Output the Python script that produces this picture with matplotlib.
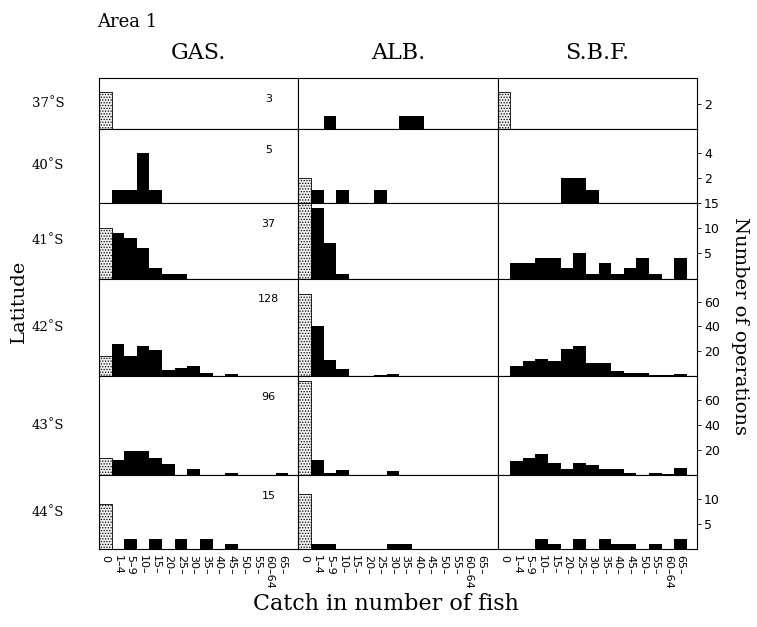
import matplotlib
matplotlib.use("Agg")
import matplotlib.pyplot as plt

# bins of catch per operation
bins = ["0", "1\u20134", "5\u20139", "10\u2013", "15\u2013", "20\u2013", "25\u2013", "30\u2013",
        "35\u2013", "40\u2013", "45\u2013", "50\u2013", "55\u2013", "60\u201364", "65\u2013"]
latitudes = ["37\u02daS", "40\u02daS", "41\u02daS", "42\u02daS", "43\u02daS", "44\u02daS"]
n_ops = ["3", "5", "37", "128", "96", "15"]
species = ["GAS.", "ALB.", "S.B.F."]

gas_37 = [3, 0, 0, 0, 0, 0, 0, 0, 0, 0, 0, 0, 0, 0, 0]
gas_40 = [0, 1, 1, 4, 1, 0, 0, 0, 0, 0, 0, 0, 0, 0, 0]
gas_41 = [10, 9, 8, 6, 2, 1, 1, 0, 0, 0, 0, 0, 0, 0, 0]
gas_42 = [16, 26, 16, 24, 21, 5, 7, 8, 3, 0, 2, 0, 0, 0, 0]
gas_43 = [14, 12, 19, 19, 14, 9, 0, 5, 0, 0, 2, 0, 0, 0, 2]
gas_44 = [9, 0, 2, 0, 2, 0, 2, 0, 2, 0, 1, 0, 0, 0, 0]

alb_37 = [0, 0, 1, 0, 0, 0, 0, 0, 1, 1, 0, 0, 0, 0, 0]
alb_40 = [2, 1, 0, 1, 0, 0, 1, 0, 0, 0, 0, 0, 0, 0, 0]
alb_41 = [15, 14, 7, 1, 0, 0, 0, 0, 0, 0, 0, 0, 0, 0, 0]
alb_42 = [66, 40, 13, 6, 0, 0, 1, 2, 0, 0, 0, 0, 0, 0, 0]
alb_43 = [75, 12, 2, 4, 0, 0, 0, 3, 0, 0, 0, 0, 0, 0, 0]
alb_44 = [11, 1, 1, 0, 0, 0, 0, 1, 1, 0, 0, 0, 0, 0, 0]

sbf_37 = [3, 0, 0, 0, 0, 0, 0, 0, 0, 0, 0, 0, 0, 0, 0]
sbf_40 = [0, 0, 0, 0, 0, 2, 2, 1, 0, 0, 0, 0, 0, 0, 0]
sbf_41 = [0, 3, 3, 4, 4, 2, 5, 1, 3, 1, 2, 4, 1, 0, 4]
sbf_42 = [0, 8, 12, 14, 12, 22, 24, 11, 11, 4, 3, 3, 1, 1, 2]
sbf_43 = [0, 11, 14, 17, 10, 5, 10, 8, 5, 5, 2, 0, 2, 1, 6]
sbf_44 = [0, 0, 0, 2, 1, 0, 2, 0, 2, 1, 1, 0, 1, 0, 2]

gas = [gas_37, gas_40, gas_41, gas_42, gas_43, gas_44]
alb = [alb_37, alb_40, alb_41, alb_42, alb_43, alb_44]
sbf = [sbf_37, sbf_40, sbf_41, sbf_42, sbf_43, sbf_44]

row_ymax = [4.1, 5.9, 15, 78.4, 79, 14.8]
row_ticks = [[2], [2, 4], [5, 10, 15], [20, 40, 60], [20, 40, 60], [5, 10]]

serif = "DejaVu Serif"
plt.rcParams["hatch.linewidth"] = 0.6

fig = plt.figure(figsize=(7.57, 6.27), dpi=100)
gs = fig.add_gridspec(nrows=6, ncols=3, left=0.1308, right=0.9207, top=0.8756, bottom=0.1244,
                      hspace=0, wspace=0, height_ratios=[51, 74, 76, 98, 99, 74])

for c, data in enumerate([gas, alb, sbf]):
    for r in range(6):
        ax = fig.add_subplot(gs[r, c])
        vals = data[r]
        x = list(range(len(bins)))
        ax.bar(x[0], vals[0], width=1, align="edge", facecolor="#f2f2f2", edgecolor="black",
               hatch="......", linewidth=0.6)
        ax.bar(x[1:], vals[1:], width=1, align="edge", color="black", linewidth=0)
        ax.set_xlim(0, 15.8)
        ax.set_ylim(0, row_ymax[r])
        for s in ax.spines.values():
            s.set_linewidth(0.8)
        ax.set_yticks([])
        if c == 2:
            ax.yaxis.tick_right()
            ax.set_yticks(row_ticks[r])
            ax.tick_params(axis="y", direction="out", length=3, width=0.6, labelsize=9, pad=2)
        if c == 0:
            ax.text(-0.255, 0.5, latitudes[r], transform=ax.transAxes, ha="center", va="center",
                    fontsize=9.5, family=serif)
            ax.annotate(n_ops[r], xy=(0.85, 1), xycoords="axes fraction", xytext=(0, -15),
                        textcoords="offset points", ha="center", va="center", fontsize=8)
        if r == 0:
            ax.set_title(species[c], fontsize=16, family=serif, pad=14)
        if r == 5:
            ax.set_xticks([i + 0.5 for i in x])
            ax.set_xticklabels(bins, rotation=-90, fontsize=8, va="top", ha="center")
            ax.tick_params(axis="x", length=0, pad=4)
        else:
            ax.set_xticks([])

fig.text(0.128, 0.965, "Area 1", fontsize=13, family=serif, ha="left", va="center")
fig.text(0.025, 0.52, "Latitude", fontsize=14, family=serif, rotation=90, ha="center", va="center")
fig.text(0.978, 0.48, "Number of operations", fontsize=14, family=serif, rotation=-90,
         ha="center", va="center")
fig.text(0.51, 0.037, "Catch in number of fish", fontsize=16, family=serif, ha="center", va="center")

fig.savefig("out.png", dpi=100)
